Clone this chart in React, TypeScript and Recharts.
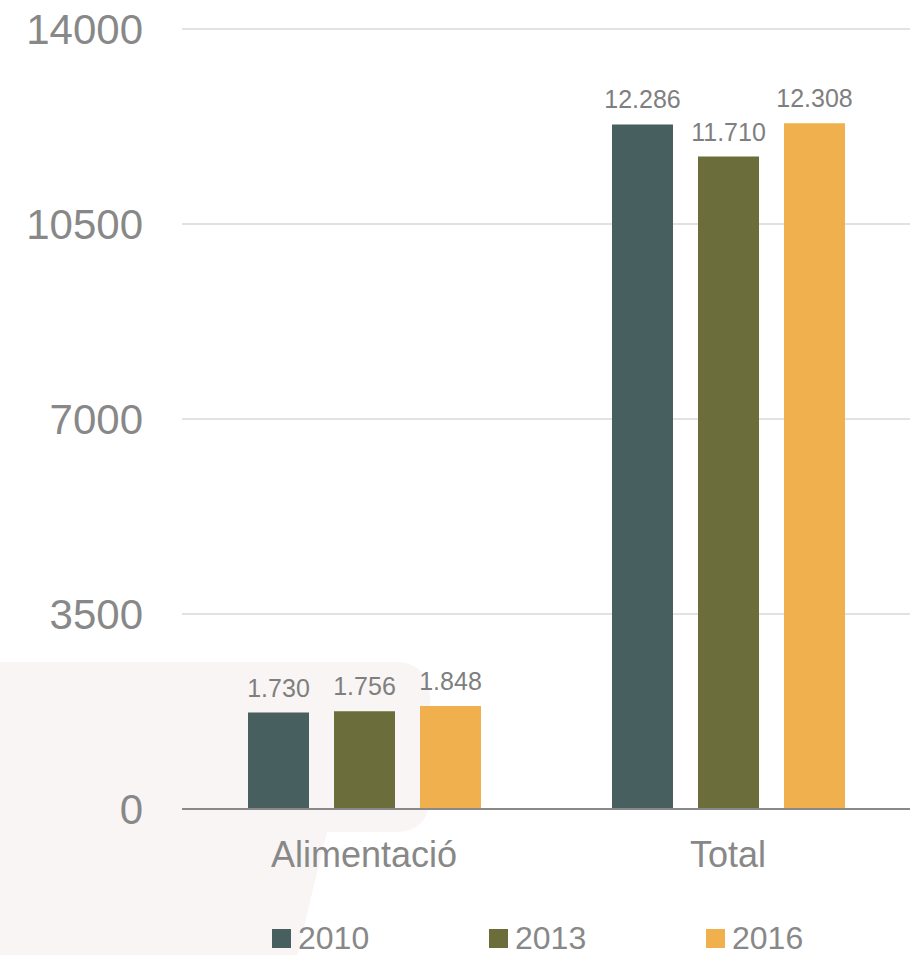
import { BarChart, Bar, XAxis, YAxis, CartesianGrid, Legend, LabelList } from 'recharts';

const categories = ['Alimentació', 'Total'];
const values2010 = [1730, 12286];
const values2013 = [1756, 11710];
const values2016 = [1848, 12308];
const yTicks = [0, 3500, 7000, 10500, 14000];

const data = categories.map((name, i) => ({
  name,
  y2010: values2010[i],
  y2013: values2013[i],
  y2016: values2016[i],
}));

const FONT = '"Liberation Sans", Arial, sans-serif';
const TEXT = '#888888';

const fmt = (v: number) => String(v).replace(/\B(?=(\d{3})+(?!\d))/g, '.');

function LegendContent(props: any) {
  const payload = props.payload ?? [];
  return (
    <div style={{ height: 86, display: 'flex', justifyContent: 'flex-start', paddingLeft: 272, boxSizing: 'border-box', paddingTop: 52 }}>
      {payload.map((entry: any) => (
        <div key={entry.value} style={{ width: 217, flexShrink: 0, display: 'flex', alignItems: 'center' }}>
          <span style={{ display: 'inline-block', width: 19, height: 19, background: entry.color, marginRight: 7 }} />
          <span style={{ fontSize: 32, color: TEXT, fontFamily: FONT, lineHeight: '32px' }}>{entry.value}</span>
        </div>
      ))}
    </div>
  );
}

export default function App() {
  return (
    <div style={{ position: 'absolute', left: 0, top: 0, width: 916, height: 955, background: '#fff' }}>
      <svg width={916} height={955} style={{ position: 'absolute', left: 0, top: 0 }}>
        <path d="M0,662 L395,662 Q430,662 430,700 L430,795 Q430,832 395,832 L327,832 L297,955 L0,955 Z" fill="#f8f5f4" />
      </svg>
      <div style={{ position: 'absolute', left: 0, top: 0 }}>
        <BarChart
          width={916}
          height={955}
          data={data}
          margin={{ top: 29, right: 6, bottom: 0, left: 0 }}
          barGap={25}
          barCategoryGap={65}
        >
          <CartesianGrid vertical={false} stroke="#d9d9d9" strokeWidth={1.5} />
          <XAxis
            dataKey="name"
            height={60}
            tickLine={false}
            tickSize={0}
            tickMargin={32}
            axisLine={{ stroke: '#898989', strokeWidth: 2 }}
            tick={{ fill: TEXT, fontSize: 36, fontFamily: FONT }}
          />
          <YAxis
            width={182}
            domain={[0, 14000]}
            ticks={yTicks}
            axisLine={false}
            tickLine={false}
            tickSize={0}
            tickMargin={39}
            tick={{ fill: TEXT, fontSize: 42, fontFamily: FONT }}
          />
          <Legend verticalAlign="bottom" content={<LegendContent />} />
          <Bar dataKey="y2010" name="2010" fill="#475f5f" barSize={61} isAnimationActive={false}>
            <LabelList dataKey="y2010" position="top" offset={16} formatter={(v: any) => fmt(v)} style={{ fill: '#7f7f7f', fontSize: 25, fontFamily: FONT }} />
          </Bar>
          <Bar dataKey="y2013" name="2013" fill="#6b6e3a" barSize={61} isAnimationActive={false}>
            <LabelList dataKey="y2013" position="top" offset={16} formatter={(v: any) => fmt(v)} style={{ fill: '#7f7f7f', fontSize: 25, fontFamily: FONT }} />
          </Bar>
          <Bar dataKey="y2016" name="2016" fill="#efb04d" barSize={61} isAnimationActive={false}>
            <LabelList dataKey="y2016" position="top" offset={16} formatter={(v: any) => fmt(v)} style={{ fill: '#7f7f7f', fontSize: 25, fontFamily: FONT }} />
          </Bar>
        </BarChart>
      </div>
    </div>
  );
}
